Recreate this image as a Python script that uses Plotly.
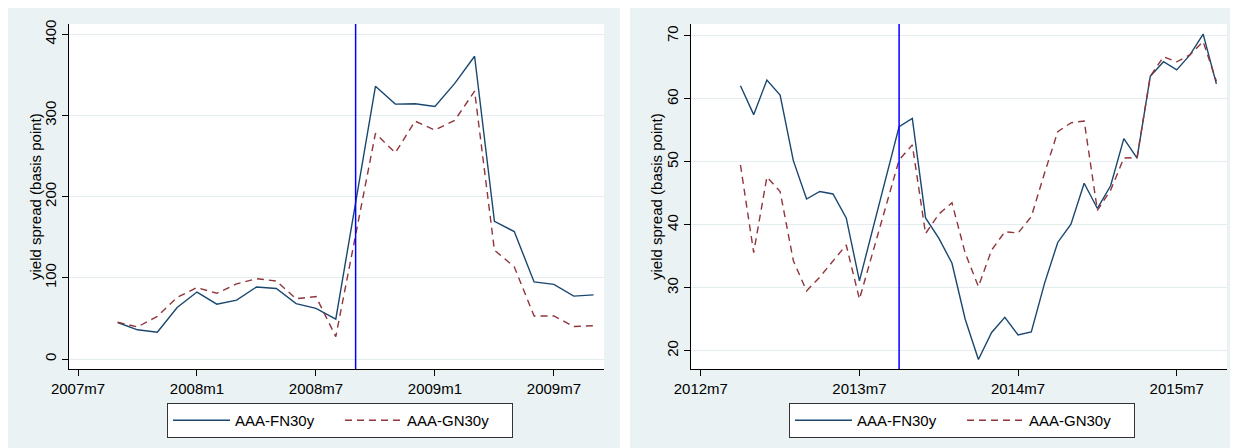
import plotly.graph_objects as go

# ---------------- data ----------------
left_months = ["2007m9", "2007m10", "2007m11", "2007m12",
               "2008m1", "2008m2", "2008m3", "2008m4", "2008m5", "2008m6",
               "2008m7", "2008m8", "2008m9", "2008m10", "2008m11", "2008m12",
               "2009m1", "2009m2", "2009m3", "2009m4", "2009m5", "2009m6",
               "2009m7", "2009m8", "2009m9"]
left_fn30 = [45, 36, 33, 63.5, 82.5, 67.5, 72.5, 88.8, 86.8, 68.3, 62.4, 49.2, None,
             336, 314, 314.5, 311, 339.5, 373, 169.5, 157, 95, 92, 77.5, 79]
left_gn30 = [45.3, 39.5, 52.5, 76, 88, 81, 92.5, 99, 96, 74.2, 77, 27.5, None,
             278, 254, 293, 282, 294, 330, 134, 113.6, 53, 53, 40, 41]
left_event = "2008m9"
left_ticks = ["2007m7", "2008m1", "2008m7", "2009m1", "2009m7"]
left_yticks = [0, 100, 200, 300, 400]

right_months = ["2012m10", "2012m11", "2012m12",
                "2013m1", "2013m2", "2013m3", "2013m4", "2013m5", "2013m6",
                "2013m7", "2013m8", "2013m9", "2013m10", "2013m11", "2013m12",
                "2014m1", "2014m2", "2014m3", "2014m4", "2014m5", "2014m6",
                "2014m7", "2014m8", "2014m9", "2014m10", "2014m11", "2014m12",
                "2015m1", "2015m2", "2015m3", "2015m4", "2015m5", "2015m6",
                "2015m7", "2015m8", "2015m9", "2015m10"]
right_fn30 = [62.1, 57.5, 63.0,
              60.6, 50.2, 44.1, 45.3, 44.9, 41.1, 31.1, None, None, 55.6, 56.9, 41.1,
              37.9, 33.9, 25.0, 18.6, 22.9, 25.3, 22.5, 23.0, 30.7, 37.2, 40.1, 46.6,
              42.6, 46.2, 53.7, 50.6, 63.6, 65.9, 64.6, 67.0, 70.3, 62.4]
right_gn30 = [49.5, 35.6, 47.6,
              45.3, 34.3, 29.5, 31.7, 34.3, 36.8, 28.2, None, None, 50.3, 52.7, 38.6,
              41.7, 43.5, 35.5, 30.2, 36.0, 38.9, 38.7, 41.3, 48.2, 54.8, 56.2, 56.5,
              42.3, 45.5, 50.6, 50.7, 63.6, 66.7, 65.9, 67.0, 69.1, 62.8]
right_event = "2013m10"
right_ticks = ["2012m7", "2013m7", "2014m7", "2015m7"]
right_yticks = [20, 30, 40, 50, 60, 70]

series_names = ["AAA-FN30y", "AAA-GN30y"]
y_title = "yield spread (basis point)"


def tm(label):
    """Stata monthly date value of a label like '2008m9'."""
    y, m = label.split("m")
    return (int(y) - 1960) * 12 + int(m) - 1


# ---------------- styling ----------------
# the page body has an 8px margin, so the figure starts at screen (8, 8)
OFF = 8
W, H = 1238 - OFF, 448 - OFF


def px(x):  # screen x -> paper fraction
    return (x - OFF) / W


def py(y):  # screen y -> paper fraction
    return 1 - (y - OFF) / H


FN_COLOR = "#1A476F"
GN_COLOR = "#90353B"
BG = "#EAF2F3"
GRID = "#E3ECEE"
FONT = "Liberation Sans, Arial, sans-serif"
FS = 15

fig = go.Figure()

panels = [
    dict(months=left_months, fn=left_fn30, gn=left_gn30, event=left_event,
         ticks=left_ticks, yticks=left_yticks, xa="x", ya="y", legend="legend"),
    dict(months=right_months, fn=right_fn30, gn=right_gn30, event=right_event,
         ticks=right_ticks, yticks=right_yticks, xa="x2", ya="y2", legend="legend2"),
]

# panel backgrounds (light) and white plot regions
for x0, x1 in [(8, 620), (630, 1238)]:
    fig.add_shape(type="rect", xref="paper", yref="paper",
                  x0=px(x0), x1=px(x1), y0=0, y1=1,
                  fillcolor=BG, line=dict(width=0), layer="below")
for x0, x1 in [(69, 604), (691, 1227)]:
    fig.add_shape(type="rect", xref="paper", yref="paper",
                  x0=px(x0), x1=px(x1), y0=py(369), y1=py(24),
                  fillcolor="white", line=dict(width=0), layer="below")

for p in panels:
    xs = [tm(m) for m in p["months"]]
    fig.add_trace(go.Scatter(
        x=xs, y=p["fn"], mode="lines", name=series_names[0],
        line=dict(color=FN_COLOR, width=1.4), connectgaps=True,
        xaxis=p["xa"], yaxis=p["ya"], legend=p["legend"]))
    fig.add_trace(go.Scatter(
        x=xs, y=p["gn"], mode="lines", name=series_names[1],
        line=dict(color=GN_COLOR, width=1.4, dash="7px,5px"), connectgaps=True,
        xaxis=p["xa"], yaxis=p["ya"], legend=p["legend"]))
    # event line
    fig.add_shape(type="line", xref=p["xa"], yref=p["ya"] + " domain",
                  x0=tm(p["event"]), x1=tm(p["event"]), y0=0, y1=1,
                  line=dict(color="#0000FF", width=1.5), layer="above")

y_dom = [py(369), py(24)]


def xaxis_cfg(dom, ticks, rng, anchor):
    return dict(domain=dom, range=rng, tickmode="array",
                tickvals=[tm(t) for t in ticks], ticktext=ticks,
                showgrid=False, zeroline=False, showline=True, linecolor="black",
                linewidth=1, ticks="outside", ticklen=6, tickcolor="black",
                tickfont=dict(family=FONT, size=FS, color="black"),
                anchor=anchor, automargin=False)


def yaxis_cfg(dom, ticks, rng, anchor):
    return dict(domain=dom, range=rng, tickmode="array", tickvals=ticks,
                showgrid=True, gridcolor=GRID, gridwidth=1.3, zeroline=False,
                showline=True, linecolor="black", linewidth=1,
                ticks="outside", ticklen=6, tickcolor="black", tickangle=-90,
                tickfont=dict(family=FONT, size=FS, color="black"),
                anchor=anchor, automargin=False)


# left axes: 2007m7 at screen px 78, 19.83 px / month; plot px 69..604
l0 = tm("2007m7")
lx = [l0 + (69 - 78) / 19.83, l0 + (604 - 78) / 19.83]
r0 = tm("2012m7")
rx = [r0 + (691 - 700.8) / 13.22, r0 + (1227 - 700.8) / 13.22]

legend_common = dict(orientation="h", xanchor="left", yanchor="top",
                     xref="container", yref="container",
                     bgcolor="white", bordercolor="#333333", borderwidth=1,
                     font=dict(family=FONT, size=FS, color="black"),
                     entrywidth=100, entrywidthmode="pixels", itemwidth=57)

fig.update_layout(
    width=W, height=H,
    margin=dict(l=0, r=0, t=0, b=0, autoexpand=False),
    paper_bgcolor="white", plot_bgcolor="white",
    showlegend=True,
    xaxis=xaxis_cfg([px(69), px(604)], left_ticks, lx, "y"),
    yaxis=yaxis_cfg(y_dom, left_yticks, [-12.3, 412.7], "x"),
    xaxis2=xaxis_cfg([px(691), px(1227)], right_ticks, rx, "y2"),
    yaxis2=yaxis_cfg(y_dom, right_yticks, [17.1, 71.9], "x2"),
    legend=dict(x=px(167), y=py(403), **legend_common),
    legend2=dict(x=px(789), y=py(403), **legend_common),
    annotations=[
        dict(text=y_title, xref="paper", yref="paper", x=px(35), y=py(197),
             textangle=-90, showarrow=False, xanchor="center", yanchor="middle",
             font=dict(family=FONT, size=FS, color="black")),
        dict(text=y_title, xref="paper", yref="paper", x=px(656), y=py(197),
             textangle=-90, showarrow=False, xanchor="center", yanchor="middle",
             font=dict(family=FONT, size=FS, color="black")),
    ],
)

fig.write_html("out.html")
